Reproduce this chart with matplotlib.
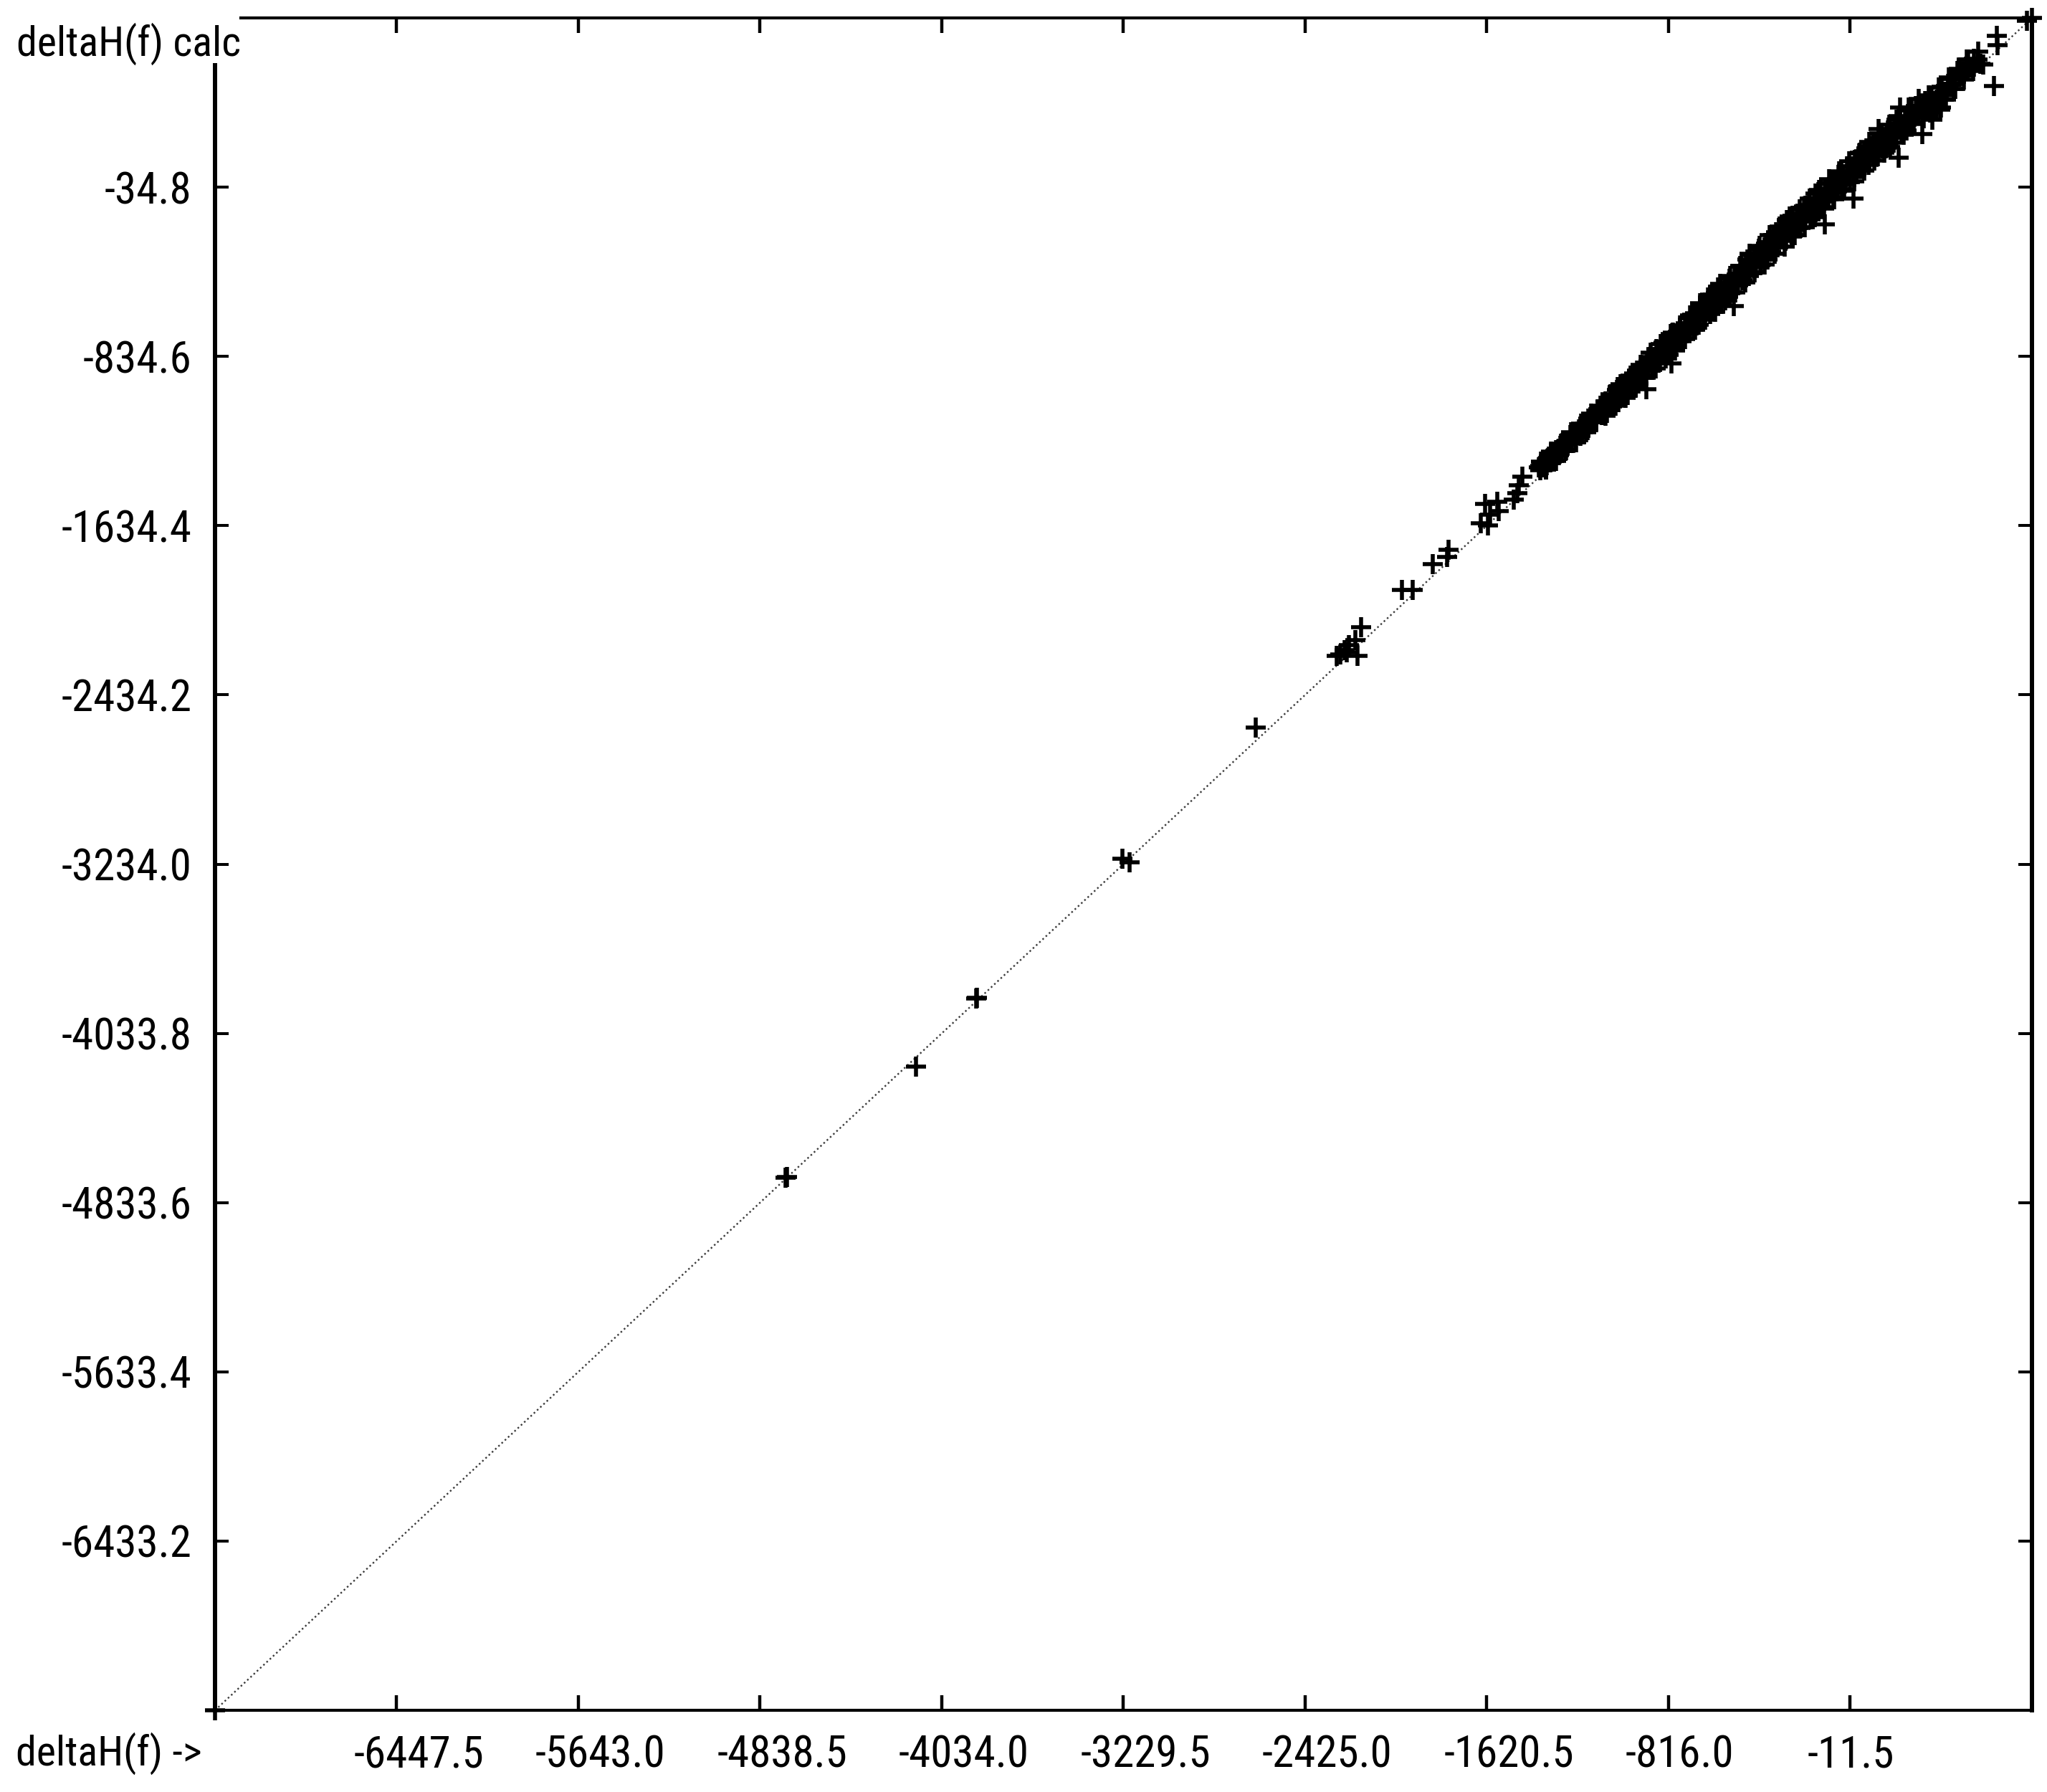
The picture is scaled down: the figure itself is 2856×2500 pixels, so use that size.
import matplotlib
matplotlib.use("Agg")
import matplotlib.pyplot as plt
import matplotlib.transforms as mtransforms
from matplotlib import font_manager
from matplotlib.font_manager import FontProperties
from matplotlib.textpath import TextPath

# ---------------- data ----------------
x_label = "deltaH(f) ->"
y_label = "deltaH(f) calc"

x_range = [-7252.0, 793.0]
y_range = [-7233.0, 765.0]

x_ticks = [-6447.5, -5643.0, -4838.5, -4034.0, -3229.5, -2425.0, -1620.5, -816.0, -11.5]
x_tick_labels = ["-6447.5", "-5643.0", "-4838.5", "-4034.0", "-3229.5", "-2425.0",
                 "-1620.5", "-816.0", "-11.5"]
y_ticks = [-6433.2, -5633.4, -4833.6, -4033.8, -3234.0, -2434.2, -1634.4, -834.6, -34.8]
y_tick_labels = ["-6433.2", "-5633.4", "-4833.6", "-4033.8", "-3234.0", "-2434.2",
                 "-1634.4", "-834.6", "-34.8"]

# sparse points (experimental, calculated)
sparse_exp = [-7252, -4725, -4721, -4148, -3882, -3879, -3233, -3201, -2643,
              -2176, -2202, -2230, -2252, -2271, -2284, -2192, -2240,
              -1996, -1948, -1859, -1789, -1796,
              -1646, -1615, -1627, -1573, -1567, -1605,
              -1463, -1478, -1485, -1500, -1383, -1352, -1336, -1367]
sparse_calc = [-7233, -4716, -4712, -4191, -3870, -3866, -3208, -3225, -2590,
               -2114, -2175, -2199, -2223, -2243, -2250, -2250, -2233,
               -1938, -1938, -1816, -1749, -1782,
               -1623, -1633, -1532, -1521, -1566, -1583,
               -1403, -1444, -1481, -1511, -1352, -1318, -1291, -1335]

# dense band of points (first pass along the band)
band_exp = [
    -1392, -1385, -1378, -1371, -1366, -1360, -1352, -1347, -1340, -1333,
    -1325, -1318, -1311, -1303, -1296, -1290, -1282, -1274, -1268, -1260,
    -1251, -1245, -1237, -1229, -1222, -1214, -1207, -1199, -1190, -1183,
    -1175, -1168, -1160, -1151, -1143, -1136, -1128, -1119, -1111, -1104,
    -1096, -1089, -1082, -1074, -1067, -1059, -1052, -1045, -1037, -1030,
    -1022, -1015, -1008, -1000, -993, -985, -978, -971, -963, -956,
    -948, -941, -934, -926, -919, -912, -904,
    -897, -890, -883, -875, -868, -861, -853, -846, -839, -831,
    -824, -817, -809, -802, -795, -787, -780, -772, -765, -758,
    -750, -743, -736, -728, -721, -714, -706,
    -699, -692, -684, -677, -670, -662, -655, -648, -640, -633,
    -626, -618, -611, -604, -596, -589, -582, -574, -567, -560,
    -552, -545, -538, -530, -523, -516, -508, -501,
    -495, -488, -481, -473, -466, -459, -451, -444, -437, -429,
    -422, -415, -407, -400, -393, -385, -378, -371, -363, -356,
    -349, -341, -334, -327, -319, -312, -305,
    -298, -291, -283, -276, -269, -261, -254, -247, -239, -232,
    -225, -217, -210, -203, -195, -188, -181, -173, -166, -159,
    -151, -144, -137, -129, -122, -115, -107, -100,
    -93, -86, -78, -71, -64, -56, -49, -42, -34, -27,
    -20, -12, -5, 2, 10, 17, 24, 32, 39, 46,
    54, 61, 68, 76, 83, 90, 98,
    105, 112, 120, 127, 134, 142, 149, 156, 164, 171,
    178, 186, 193, 200, 208, 215, 222, 230, 237, 244,
    252, 259, 266, 274, 281, 288, 296,
    303, 312, 322, 331, 341, 350, 360, 370, 380, 391,
    401, 412, 423, 442, 455, 474, 490, 505, 520, 537,
    553, 566, 578,
]
band_calc = [
    -1360, -1372, -1337, -1359, -1336, -1370, -1328, -1309, -1335, -1289,
    -1328, -1298, -1278, -1303, -1256, -1281, -1255, -1282, -1232, -1244,
    -1208, -1244, -1206, -1241, -1200, -1179, -1211, -1157, -1179, -1155,
    -1182, -1143, -1121, -1147, -1125, -1138, -1083, -1105, -1077, -1110,
    -1046, -1101, -1057, -1033, -1072, -1026, -1042, -993, -1052, -1002,
    -977, -1013, -972, -1009, -971, -937, -980, -941, -949, -901,
    -962, -903, -928, -900, -927, -868, -885,
    -839, -898, -848, -863, -802, -863, -809, -825, -769, -826,
    -785, -827, -757, -775, -732, -787, -732, -757, -697, -764,
    -717, -688, -727, -686, -697, -653, -710,
    -629, -689, -639, -655, -594, -654, -603, -617, -574, -633,
    -586, -544, -597, -546, -569, -517, -585, -527, -548, -497,
    -516, -467, -532, -480, -498, -447, -497, -458,
    -410, -476, -426, -443, -376, -455, -389, -404, -359, -411,
    -372, -327, -399, -334, -358, -303, -378, -313, -338, -282,
    -304, -249, -319, -267, -281, -232, -283,
    -288, -221, -248, -188, -267, -206, -226, -165, -195, -226,
    -160, -127, -190, -153, -120, -188, -143, -88, -152, -99,
    -119, -52, -129, -81, -44, -90, -49, -60,
    -13, -81, -30, -49, 22, -21, -51, 20, -19, 63,
    22, -12, 65, 30, 94, 27, 79, 127, 57, 112,
    92, 149, 71, 128, 159, 115, 158,
    177, 112, 160, 212, 149, 200, 179, 234, 156, 221,
    198, 254, 198, 244, 288, 227, 257, 292, 232, 292,
    277, 329, 268, 312, 336, 306, 341,
    340, 296, 328, 362, 318, 349, 372, 335, 390, 342,
    399, 380, 453, 477, 430, 487, 500, 569, 530, 535,
    569, 548, 545,
]

# dense band of points (second pass, in between the first)
band2_exp = [
    -1356, -1341, -1327, -1313, -1299, -1284, -1270, -1256, -1241, -1227,
    -1213, -1198, -1184, -1170, -1155, -1141, -1127, -1112,
    -1098, -1084, -1069, -1055, -1041, -1026, -1012, -998, -983, -969,
    -955, -940, -926, -912,
    -897, -883, -869, -854, -840, -826, -811, -797, -783, -768,
    -754, -740, -725, -711,
    -697, -682, -668, -654, -639, -625, -611, -596, -582, -568,
    -553, -539, -525, -510,
    -496, -482, -467, -453, -439, -424, -410, -396, -381, -367,
    -353, -338, -324, -310, -295, -281, -267, -252, -238, -224,
    -209, -195, -181, -166, -152, -138, -123, -109,
    -95, -80, -66, -52, -37, -23, -9, 6, 20, 34,
    49, 63, 77, 92, 106, 120, 135, 149, 163, 178,
    192, 206, 221, 235, 249, 264, 278, 292,
    307, 321, 335, 350, 364, 378, 393, 407, 421, 436,
    450, 464, 479, 493, 507, 522, 536,
]
band2_calc = [
    -1348, -1312, -1310, -1276, -1296, -1259, -1237, -1244, -1201, -1212,
    -1191, -1193, -1153, -1128, -1146, -1117, -1091, -1112,
    -1066, -1066, -1019, -1057, -981, -1018, -972, -1016, -953, -914,
    -941, -896, -936, -890,
    -851, -869, -801, -850, -801, -769, -791, -723, -787, -724,
    -725, -678, -715, -639,
    -652, -684, -606, -622, -563, -609, -560, -510, -556, -500,
    -553, -499, -466, -500,
    -407, -425, -437, -355, -393, -349, -405, -333, -298, -329,
    -260, -316, -270, -239, -281, -201, -170, -210, -173, -196,
    -122, -144, -171, -90, -57, -103, -63, -91,
    -16, -17, -27, 37, -17, 30, 65, 13, 85, 77,
    135, 90, 134, 172, 121, 189, 183, 152, 239, 213,
    283, 267, 244, 286, 332, 275, 350, 332,
    338, 373, 342, 388, 362, 405, 439, 417, 443, 476,
    454, 513, 508, 507, 551, 530, 572,
]

# points along the upper and lower edges of the band
band3_exp = [
    -1380, -1358, -1336, -1314, -1292, -1270, -1248, -1226, -1204, -1182,
    -1160, -1138, -1116,
    -1094, -1072, -1050, -1028, -1006, -984, -962, -940, -918,
    -896, -874, -852, -830, -808, -786, -764, -742, -720,
    -698, -676, -654, -632, -610, -588, -566, -544, -522, -500,
    -478, -456, -434, -412, -390, -368, -346, -324, -302, -280,
    -258, -236, -214, -192, -170, -148, -126, -104,
    -82, -60, -38, -16, 6, 28, 50, 72, 94, 116,
    138, 160, 182, 204, 226, 248, 270, 292,
    314, 336, 358, 380, 402, 424, 446, 468, 490, 512, 534, 556,
]
band3_calc = [
    -1332, -1368, -1284, -1328, -1246, -1278, -1193, -1241, -1154, -1194,
    -1106, -1147, -1067,
    -1116, -1012, -1068, -966, -1031, -926, -982, -876, -934,
    -818, -892, -778, -844, -728, -806, -688, -754, -641,
    -710, -584, -662, -544, -625, -493, -571, -454, -532, -406,
    -486, -351, -436, -312, -400, -260, -351, -222, -314, -174,
    -262, -138, -223, -88, -176, -48, -137, 3,
    -92, 40, -44, 88, -6, 126, 42, 178, 90, 218,
    128, 260, 176, 300, 214, 343, 265, 382,
    292, 398, 338, 438, 378, 484, 428, 523, 475, 570, 514, 606,
]

# scattered outliers and top-end points
outlier_exp = [-640, -293, -166, 114, 210, -915, -803, -527, -124, 3,
               203, 308, 352, 387, 625, 637, 640, 770, 793]
outlier_calc = [-555, -190, -65, 241, 342, -990, -868, -597, -211, -89,
                104, 216, 284, 332, 443, 680, 636, 750, 765]

assert len(sparse_exp) == len(sparse_calc)
assert len(band_exp) == len(band_calc)
assert len(band2_exp) == len(band2_calc)
assert len(band3_exp) == len(band3_calc)
assert len(outlier_exp) == len(outlier_calc)

all_exp = sparse_exp + band_exp + band2_exp + band3_exp + outlier_exp
all_calc = sparse_calc + band_calc + band2_calc + band3_calc + outlier_calc

# ---------------- fonts ----------------
available = {f.name for f in font_manager.fontManager.ttflist}
primary = next((f for f in ["Liberation Sans Narrow", "Arial Narrow", "Roboto Condensed",
                            "Noto Sans Condensed", "Liberation Sans", "DejaVu Sans"]
                if f in available), "DejaVu Sans")
plt.rcParams["font.family"] = [primary, "DejaVu Sans"]

W, H, DPI = 2856, 2500, 100
# size the text so that a y tick label has the width seen in the picture
_tp = TextPath((0, 0), "-6433.2", size=100, prop=FontProperties(family=[primary]))
_w_pt = _tp.get_extents().width / 100.0
FS = max(30.0, min(44.0, 178.0 * 72.0 / DPI / _w_pt))
FS_TITLE = FS * 0.95

# ---------------- figure ----------------
fig = plt.figure(figsize=(W / DPI, H / DPI), dpi=DPI, facecolor="white")
ax = fig.add_axes([300 / W, 1 - 2386 / H, (2835 - 300) / W, (2386 - 25) / H])
ax.set_facecolor("white")

ax.set_xlim(x_range)
ax.set_ylim(y_range)

# ideal (y = x) line, corner to corner
ax.plot(x_range, y_range, color="#3a3a3a", lw=1.7, ls=(0, (1.0, 1.6)), zorder=2)

# data points
ax.plot(all_exp, all_calc, ls="none", marker="+", ms=19.5, mew=4.0,
        color="black", clip_on=False, zorder=4)

# spines
for side in ["left", "right"]:
    ax.spines[side].set_linewidth(4.3)
for side in ["top", "bottom"]:
    ax.spines[side].set_linewidth(3.0)
for s in ax.spines.values():
    s.set_color("black")

ax.set_xticks(x_ticks)
ax.set_xticklabels(x_tick_labels)
ax.set_yticks(y_ticks)
ax.set_yticklabels(y_tick_labels)

ax.tick_params(axis="x", which="major", direction="in", length=15, width=3.2,
               top=True, bottom=True, labeltop=False, pad=24, labelsize=FS,
               colors="black")
ax.tick_params(axis="y", which="major", direction="in", length=14, width=2.9,
               left=True, right=True, labelright=False, pad=23.5, labelsize=FS,
               colors="black")

# x tick labels start a little left of the tick (left-aligned)
offset = mtransforms.ScaledTranslation(-60 / DPI, 0, fig.dpi_scale_trans)
for tick in ax.xaxis.get_major_ticks():
    tick.label1.set_horizontalalignment("left")
    tick.label1.set_transform(tick.label1.get_transform() + offset)

# axis titles
ytitle = fig.text(23 / W, 1 - 78 / H, y_label, fontsize=FS_TITLE, ha="left",
                  va="baseline", color="black", zorder=10)
fig.text(22 / W, 1 - 2463 / H, x_label, fontsize=FS_TITLE, ha="left", va="baseline",
         color="black", zorder=10)

# the frame leaves room for the y title in the top-left corner:
# the top line starts where the title ends, the left line starts below it
fig.canvas.draw()
bb = ytitle.get_window_extent(renderer=fig.canvas.get_renderer())
x_end, y_bottom = ax.transData.inverted().transform((bb.x1, bb.y0))
ax.spines["top"].set_bounds(x_end, x_range[1])
ax.spines["left"].set_bounds(y_range[0], y_bottom)

fig.savefig("out.png", dpi=DPI, facecolor="white")
